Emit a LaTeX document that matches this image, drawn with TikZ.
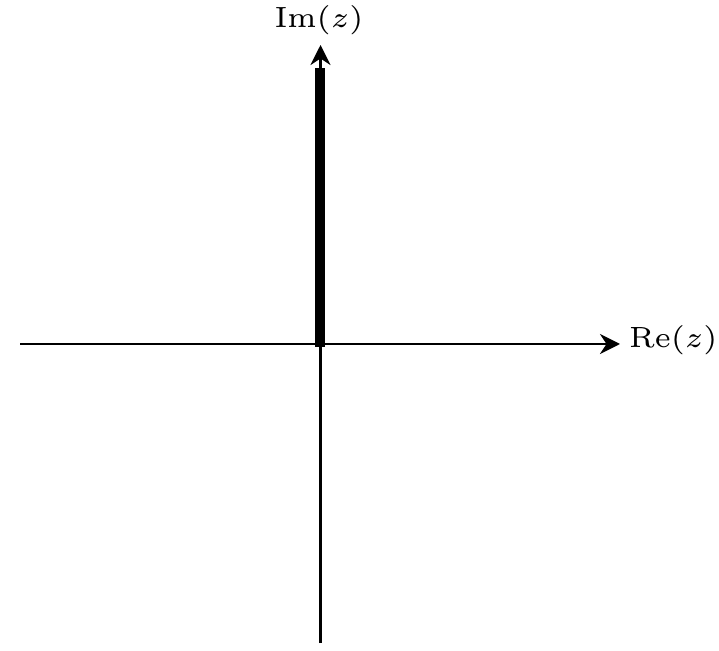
\documentclass[tikz,border=0pt]{standalone}
\usetikzlibrary{arrows.meta}
\begin{document}
\begin{tikzpicture}[x=0.4pt,y=-0.4pt,
  axis/.style={line width=1.08pt,-{Stealth[length=8pt,width=8pt]}},
  cutline/.style={line width=4pt,line cap=butt},
  lbl/.style={inner sep=0pt,outer sep=0pt}]
\useasboundingbox (0,0) rectangle (719,651);
\coordinate (xl) at (20,344);
\coordinate (xr) at (620,344);
\coordinate (yb) at (320.5,643);
\coordinate (yt) at (320.5,45);
\coordinate (cb) at (320,347);
\coordinate (ct) at (320,68);
\draw[axis] (xl) -- (xr);
\draw[axis] (yb) -- (yt);
\draw[cutline] (cb) -- (ct);
\node[lbl,anchor=base] (im) at (319,28) {\scalebox{1.95}{\fontsize{6}{7}\selectfont$\mathrm{Im}(z)$}};
\node[lbl,anchor=base west] (re) at (629,348) {\scalebox{1.95}{\fontsize{6}{7}\selectfont$\mathrm{Re}(z)$}};
\end{tikzpicture}
\end{document}
